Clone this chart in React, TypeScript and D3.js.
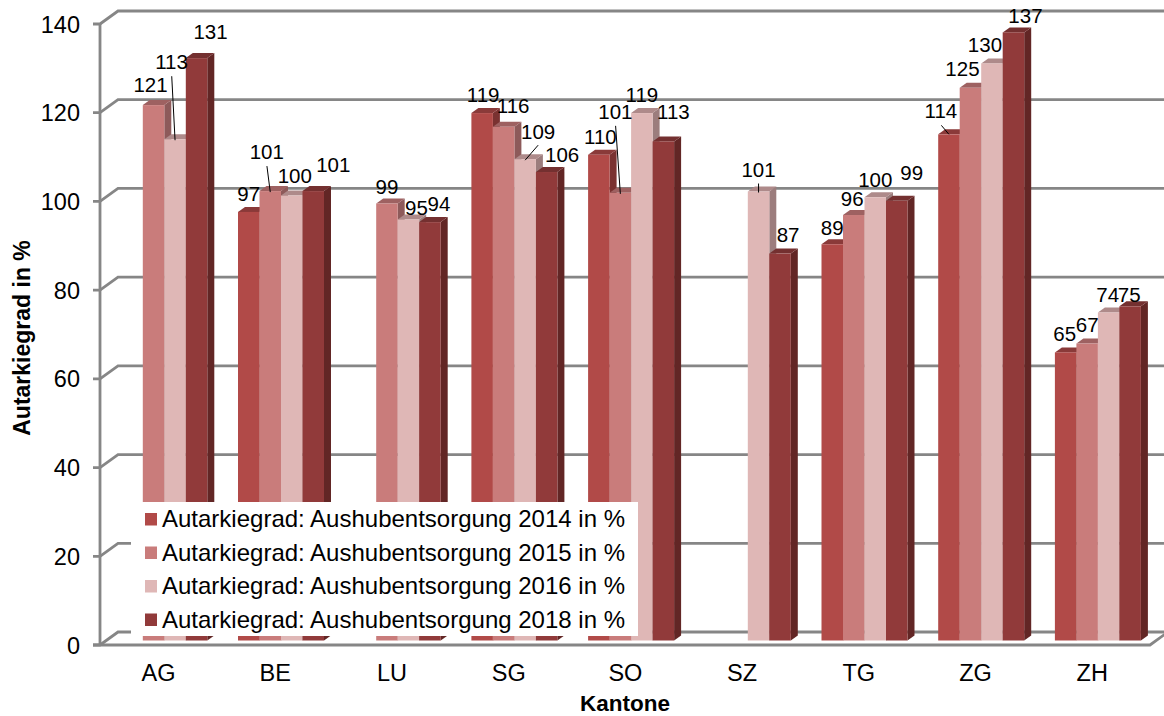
import React from "react";
import * as d3 from "d3";

const kantone = ["AG", "BE", "LU", "SG", "SO", "SZ", "TG", "ZG", "ZH"];
const yTicks = [0, 20, 40, 60, 80, 100, 120, 140];
const seriesNames = [
  "Autarkiegrad: Aushubentsorgung 2014 in %",
  "Autarkiegrad: Aushubentsorgung 2015 in %",
  "Autarkiegrad: Aushubentsorgung 2016 in %",
  "Autarkiegrad: Aushubentsorgung 2018 in %",
];
const values2014 = [null, 96.7, null, 119, 109.6, null, 89.4, 114.2, 65];
const values2015 = [120.8, 101.4, 98.6, 115.9, 101, null, 96, 124.7, 67];
const values2016 = [113.1, 100.4, 95, 108.6, 119, 101.3, 100, 130.2, 74];
const values2018 = [131.4, 101.4, 94.4, 105.7, 112.6, 87.3, 99.2, 137.2, 75.4];
const seriesValues = [values2014, values2015, values2016, values2018];

// label offsets from the top centre of each bar: [dx, dy] per Kanton
const labelOffsets2014: number[][] = [[0, 0], [0, -11], [0, 0], [1, -11], [1.5, -11], [0, 0], [0, -9], [-8, -16], [-1, -11]];
const labelOffsets2015: number[][] = [[-3, -13], [-3.5, -32], [0, -9], [9.5, -14], [-5, -74], [0, 0], [-1.5, -9], [-8, -12], [0, -12]];
const labelOffsets2016: number[][] = [[-3.5, -70], [3, -13], [8, -4], [13, -20], [0, -11], [0, -15], [0, -10], [-7, -11], [-1, -11]];
const labelOffsets2018: number[][] = [[14, -19], [20, -19], [9, -11], [15.5, -10], [10, -22], [8, -12], [15, -21], [12, -9], [-1, -4]];
const labelOffsets = [labelOffsets2014, labelOffsets2015, labelOffsets2016, labelOffsets2018];

// which labels have a leader line: [series, kanton index]
const leaders = [[2, 0], [1, 1], [2, 3], [1, 4], [2, 5], [0, 7]];

const frontColors = ["#B14A48", "#C97C7B", "#DFB7B6", "#913A3A"];
const topColors = ["#8A3A39", "#9E6161", "#AE8A8A", "#743030"];
const sideColors = ["#7A3231", "#8D5A5A", "#9C7D7D", "#622625"];
const GRID = "#868686";
const FONT = "'Liberation Sans', Arial, sans-serif";

const depthX = 7, depthY = 5;
const wallX = 18, wallY = 13;

export default function App() {
  const axisY = d3.scaleLinear().domain([0, 140]).range([645, 24]);
  const barY = d3.scaleLinear().domain([0, 140]).range([640.5, 20]);
  const groupX = d3.scaleBand<string>().domain(kantone).range([121.3, 121.3 + 116.7 * 9]).paddingInner(0);
  const barW = 21.5;
  const axisLeft = 100, axisRight = 1150;

  const bars: React.ReactNode[] = [];
  const labels: React.ReactNode[] = [];
  kantone.forEach((k, ki) => {
    seriesValues.forEach((vals, si) => {
      const v = vals[ki];
      if (v == null) return;
      const x0 = groupX(k)! + si * barW;
      const x1 = x0 + barW;
      const yT = barY(v);
      const yB = barY(0);
      bars.push(
        <g key={`${k}-${si}`}>
          <polygon points={`${x1},${yB} ${x1 + depthX},${yB - depthY} ${x1 + depthX},${yT - depthY} ${x1},${yT}`} fill={sideColors[si]} />
          <polygon points={`${x0},${yT} ${x0 + depthX},${yT - depthY} ${x1 + depthX},${yT - depthY} ${x1},${yT}`} fill={topColors[si]} />
          <rect x={x0} y={yT} width={barW} height={yB - yT} fill={frontColors[si]} />
        </g>
      );
      const [dx, dy] = labelOffsets[si][ki];
      const cx = x0 + barW / 2;
      const isLeader = leaders.some(([s, i]) => s === si && i === ki);
      if (isLeader) {
        const slopeUp = dx > 5;
        labels.push(
          <line key={`l-${k}-${si}`}
            x1={cx} y1={yT + (si === 0 ? 0 : 1)}
            x2={slopeUp ? cx + dx : cx + dx * 0.95}
            y2={slopeUp ? yT + dy + 6 : yT + dy + 7}
            stroke="#000" strokeWidth={1} />
        );
      }
      labels.push(
        <text key={`t-${k}-${si}`} x={cx + dx} y={yT + dy} textAnchor="middle" fontSize={20.5} fill="#000">
          {d3.format(".0f")(v)}
        </text>
      );
    });
  });

  return (
    <svg width={1164} height={716} style={{ position: "fixed", left: 0, top: 0, background: "#fff" }} fontFamily={FONT}>
      {/* wall gridlines */}
      {yTicks.map((t) => {
        const y = axisY(t);
        return (
          <g key={t}>
            <polyline points={`${axisLeft - 7},${y} ${axisLeft},${y} ${axisLeft + wallX},${y - wallY} ${axisRight + wallX},${y - wallY}`}
              fill="none" stroke={GRID} strokeWidth={2.8} />
            <text x={80} y={y + 8.5} textAnchor="end" fontSize={23.5} fill="#000">{t}</text>
          </g>
        );
      })}
      <line x1={axisLeft} x2={axisLeft} y1={axisY(140)} y2={axisY(0)} stroke={GRID} strokeWidth={2.8} />
      <polyline points={`${axisLeft - 7},${axisY(0)} ${axisRight},${axisY(0)} ${axisRight + wallX},${axisY(0) - wallY}`}
        fill="none" stroke={GRID} strokeWidth={2.8} />

      {bars}

      {/* legend */}
      <rect x={131} y={502} width={507} height={134} fill="#fff" />
      {seriesNames.map((name, i) => {
        const y = d3.scaleLinear().domain([0, 3]).range([519, 619.5])(i);
        return (
          <g key={name}>
            <rect x={145} y={y - 6} width={12} height={12.5} fill={frontColors[i]} />
            <text x={162} y={y + 8} fontSize={24} fill="#000">{name}</text>
          </g>
        );
      })}

      {labels}

      {kantone.map((k) => (
        <text key={k} x={groupX(k)! + 37.3} y={681} textAnchor="middle" fontSize={23.5} fill="#000">{k}</text>
      ))}
      <text x={625} y={711} textAnchor="middle" fontSize={22.5} fontWeight="bold" fill="#000">Kantone</text>
      <text transform="translate(30,338) rotate(-90)" textAnchor="middle" fontSize={23} fontWeight="bold" fill="#000">Autarkiegrad in %</text>
    </svg>
  );
}
